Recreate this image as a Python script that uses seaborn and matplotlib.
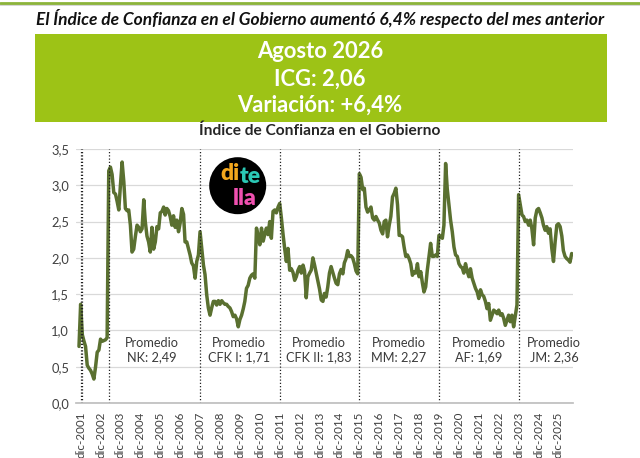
import matplotlib
matplotlib.use("Agg")
import matplotlib.pyplot as plt
from matplotlib.patches import Rectangle, Ellipse
from matplotlib.lines import Line2D
from matplotlib.ticker import FuncFormatter
import pandas as pd
import seaborn as sns

# ICG mensual (nov-2001 .. ago-2026), por gobierno
icg_pre_nk = [0.78, 1.36, 0.94, 0.85, 0.78, 0.52, 0.48, 0.45, 0.40, 0.33,
              0.50, 0.70, 0.73, 0.88, 0.85, 0.86, 0.87, 0.90]
icg_nk = [3.20, 3.25, 3.15, 2.90, 2.88, 2.78, 2.66, 3.00, 3.32, 3.05,
          2.68, 2.65, 2.66, 2.45, 2.08, 2.12, 2.30, 2.45, 2.42, 2.36,
          2.40, 2.80, 2.50, 2.30, 2.22, 2.08, 2.42, 2.12, 2.22, 2.43,
          2.40, 2.62, 2.64, 2.70, 2.59, 2.68, 2.65, 2.57, 2.45, 2.58,
          2.42, 2.52, 2.36, 2.48, 2.68, 2.60, 2.22, 2.22, 2.13, 2.04,
          1.93, 1.89, 1.72, 1.95, 2.04]
icg_cfk1 = [2.36, 2.13, 1.90, 1.77, 1.49, 1.31, 1.21, 1.31, 1.40, 1.40,
            1.35, 1.41, 1.36, 1.41, 1.38, 1.36, 1.36, 1.33, 1.31, 1.26,
            1.19, 1.21, 1.16, 1.05, 1.15, 1.21, 1.30, 1.40, 1.58, 1.62,
            1.72, 1.76, 1.78, 1.72, 2.41, 2.30, 2.18, 2.41, 2.23, 2.32,
            2.41, 2.32, 2.50, 2.27, 2.64, 2.66, 2.62, 2.70]
icg_cfk2 = [2.75, 2.55, 2.32, 2.13, 1.95, 2.13, 1.83, 1.85, 1.80, 1.69,
            1.74, 1.83, 1.88, 1.79, 1.90, 1.82, 1.45, 1.74, 1.79, 1.83,
            2.00, 1.90, 1.79, 1.68, 1.57, 1.42, 1.40, 1.51, 1.46, 1.60,
            1.79, 1.88, 1.80, 1.72, 1.65, 1.63, 1.78, 1.84, 1.78, 1.93,
            1.99, 2.10, 2.02, 2.03, 2.00, 1.92, 1.82, 1.78]
icg_mm = [3.16, 3.11, 2.94, 2.96, 2.70, 2.63, 2.66, 2.70, 2.55, 2.52,
          2.57, 2.52, 2.48, 2.38, 2.33, 2.50, 2.52, 2.29, 2.45, 2.57,
          2.84, 2.89, 2.96, 2.73, 2.31, 2.31, 2.29, 2.15, 2.02, 2.04,
          1.99, 1.92, 1.76, 1.81, 1.79, 1.92, 1.74, 1.81, 1.65, 1.53,
          1.60, 1.83, 2.02, 2.20, 2.02, 2.02, 2.04, 2.02]
icg_af = [2.31, 2.30, 2.27, 2.45, 3.30, 2.95, 2.73, 2.52, 2.36, 2.15,
          2.04, 2.02, 1.92, 1.88, 1.86, 1.79, 1.92, 1.82, 1.74, 1.85,
          1.72, 1.65, 1.58, 1.53, 1.44, 1.56, 1.49, 1.47, 1.40, 1.30,
          1.37, 1.14, 1.21, 1.28, 1.26, 1.23, 1.28, 1.21, 1.23, 1.17,
          1.07, 1.14, 1.21, 1.12, 1.21, 1.05, 1.20, 1.35]
icg_jm = [2.87, 2.73, 2.59, 2.57, 2.50, 2.52, 2.45, 2.52, 2.40, 2.18,
          2.55, 2.66, 2.68, 2.62, 2.55, 2.45, 2.38, 2.43, 2.34, 2.40,
          2.13, 1.95, 2.22, 2.45, 2.47, 2.43, 2.30, 2.10, 2.02, 1.99,
          1.97, 1.94, 2.06]

cambios_gobierno = ["2001-12-01", "2002-01-01", "2003-05-01", "2007-12-01",
                    "2011-12-01", "2015-12-01", "2019-12-01", "2023-12-01"]
promedios = ["NK: 2,49", "CFK I: 1,71", "CFK II: 1,83",
             "MM: 2,27", "AF: 1,69", "JM: 2,36"]
promedios_fecha = ["2005-07-01", "2009-11-12", "2013-11-20",
                   "2017-11-28", "2021-12-01", "2025-09-10"]
anios_tick = list(range(2001, 2026))

valores = icg_pre_nk + icg_nk + icg_cfk1 + icg_cfk2 + icg_mm + icg_af + icg_jm
df = pd.DataFrame({
    "fecha": pd.date_range("2001-11-01", periods=len(valores), freq="MS"),
    "icg": valores,
})

sns.set_theme(style="white")
plt.rcParams["font.family"] = ["Lato", "DejaVu Sans"]

W, H = 640, 458
fig = plt.figure(figsize=(W / 100, H / 100), dpi=100)

# linea verde superior
fig.add_artist(Line2D([0, 1], [1 - 5 / H, 1 - 5 / H], color="#d0d0d0", lw=1.2))
fig.add_artist(Line2D([0, 1], [1 - 3 / H, 1 - 3 / H], color="#8cb43a", lw=2))

fig.text(0.5, 1 - 18 / H,
         "El Índice de Confianza en el Gobierno aumentó 6,4% respecto del mes anterior",
         ha="center", va="center", fontsize=12.5, fontweight="bold",
         fontstyle="italic", color="#111111")

fig.add_artist(Rectangle((35 / W, 1 - 122 / H), 572 / W, 88 / H,
                         transform=fig.transFigure, color="#9dc316", lw=0))
for txt, yy in [("Agosto 2026", 52), ("ICG: 2,06", 79), ("Variación: +6,4%", 105)]:
    fig.text(0.5, 1 - yy / H, txt, ha="center", va="center", fontsize=15.8,
             fontweight="bold", color="white")

fig.text(0.5, 1 - 131 / H, "Índice de Confianza en el Gobierno", ha="center",
         va="center", fontsize=11.2, fontweight="bold", color="#262626")

ax = fig.add_axes([76 / W, 55 / H, 497 / W, 254 / H])
sns.lineplot(data=df, x="fecha", y="icg", ax=ax, color="#5a7030", linewidth=2.5)

ax.set_xlim(pd.Timestamp("2001-11-01") - pd.Timedelta(days=55),
            pd.Timestamp("2026-08-01") + pd.Timedelta(days=24))
ax.set_ylim(0, 3.5)
ax.set_yticks([i * 0.5 for i in range(8)])
ax.yaxis.set_major_formatter(FuncFormatter(lambda v, p: f"{v:.1f}".replace(".", ",")))
ax.set_xticks([pd.Timestamp(f"{a}-12-01") for a in anios_tick])
ax.set_xticklabels([f"dic-{a}" for a in anios_tick], rotation=90)
ax.set_xlabel("")
ax.set_ylabel("")

ax.yaxis.grid(True, color="#d9d9d9", lw=0.9)
ax.xaxis.grid(False)
ax.set_axisbelow(True)
for s in ["top", "right", "left"]:
    ax.spines[s].set_visible(False)
ax.spines["bottom"].set_color("#bfbfbf")
ax.tick_params(axis="x", length=4, width=0.8, color="#bfbfbf", direction="out",
               labelsize=8.4, labelcolor="#404040", pad=2)
ax.tick_params(axis="y", length=0, labelsize=9.3, labelcolor="#404040", pad=5)

for f in cambios_gobierno:
    ax.axvline(pd.Timestamp(f), color="#222222", ls=(0, (1, 1.6)), lw=0.9)

for etiqueta, f in zip(promedios, promedios_fecha):
    ax.text(pd.Timestamp(f), 0.73, "Promedio\n" + etiqueta, ha="center",
            va="center", fontsize=9.2, color="#3b3b3b", linespacing=1.25)

# logo di tella
fig.add_artist(Ellipse((237.7 / W, 1 - 185.7 / H), 57 / W, 57 / H,
                       transform=fig.transFigure, color="black", lw=0))
fig.text(220 / W, 1 - 180 / H, "di", ha="left", va="baseline", fontsize=16.5,
         fontweight="heavy", color="#f4a81d")
fig.text(239.5 / W, 1 - 183 / H, "te", ha="left", va="baseline", fontsize=16.5,
         fontweight="heavy", color="#2bc8b5")
fig.text(233 / W, 1 - 205 / H, "lla", ha="left", va="baseline", fontsize=16.5,
         fontweight="heavy", color="#f050b0")

fig.savefig("out.png", dpi=100)
